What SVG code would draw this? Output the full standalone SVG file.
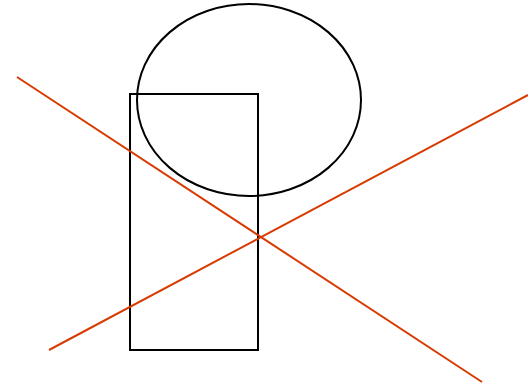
<svg xmlns="http://www.w3.org/2000/svg" width="528" height="385" viewBox="0 0 528 385">
<style>
.shape{fill:none;stroke:#000;stroke-width:2}
.line{fill:none;stroke:#d83b01;stroke-width:2}
</style>
<rect width="528" height="385" fill="#fff"/>
<g id="ellipse"><ellipse class="shape" cx="249" cy="100" rx="112" ry="96"/></g>
<g id="rect"><rect class="shape" x="130" y="94" width="128" height="256"/></g>
<g id="connectors">
<line class="line" x1="17" y1="77" x2="482" y2="382"/>
<line class="line" x1="49" y1="350" x2="528" y2="95"/>
</g>
</svg>
